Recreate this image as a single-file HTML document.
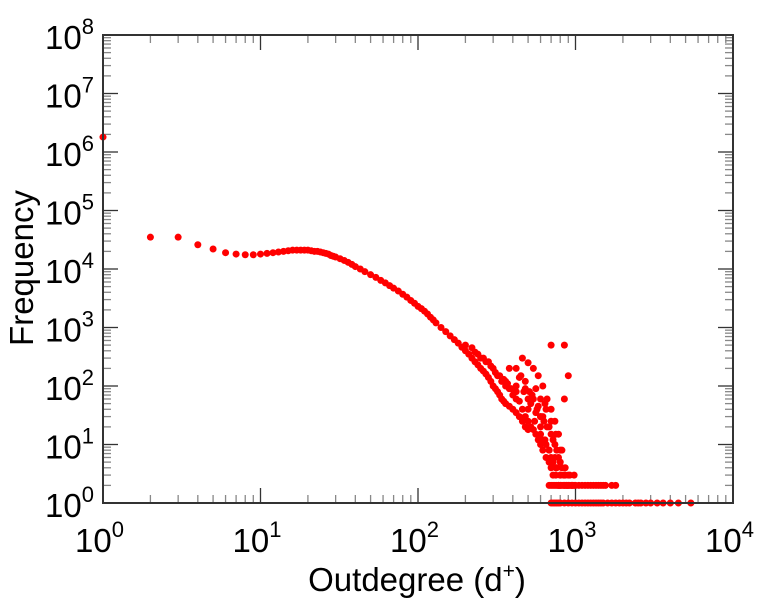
<!DOCTYPE html>
<html><head><meta charset="utf-8"><style>
body{margin:0;background:#fff;}
svg text{font-family:"Liberation Sans",sans-serif;fill:#000;}
</style></head><body>
<svg id="chart" width="764" height="600" xmlns="http://www.w3.org/2000/svg">
<g id="ticks"></g>
<g id="pts"></g>
<rect x="103" y="35" width="630" height="468" fill="none" stroke="#333" stroke-width="2"/>
<g id="labels"></g>
<text x="417" y="591" font-size="33" text-anchor="middle">Outdegree (d<tspan dy="-13" font-size="21">+</tspan><tspan dy="13">)</tspan></text>
<text transform="translate(33,268) rotate(-90)" font-size="33" text-anchor="middle">Frequency</text>
</svg>
<script>
const xTickLabels=["0","1","2","3","4"];
const yTickLabels=["0","1","2","3","4","5","6","7","8"];
const degrees=[1,2,3,4,5,6,7,8,9,10,11,12,13,14,15,16,17,18,19,20,21,22,23,24,25,26,27,28,29,30,32,34,36,38,40,43,46,50,54,58,62,66,70,75,80,85,90,95,100,105,110,115,120,125,130,140,150,160,170,180,190,200,210,220,230,240,250,260,270,280,290,300,310,320,330,340,350,360,380,400,420,440,460,480,500];
const freqs=[1800000,35000,35000,26000,22000,19000,18000,17500,17500,18000,18500,19000,19500,20000,20500,21000,21000,21000,21000,21000,20500,20000,20000,19500,19000,18500,18000,17000,16500,16000,15000,14000,13000,12000,11000,10000,9000,8000,7200,6400,5800,5200,4700,4200,3700,3300,2900,2600,2300,2100,1900,1700,1500,1350,1200,1000,850,720,620,540,460,400,350,300,260,230,200,180,160,140,120,100,90,80,70,60,55,50,45,40,35,30,25,20,18];
const tailDegrees=[200,220,240,260,280,300,230,250,270,290,310,330,350,370,390,320,340,360,380,400,420,440,460,480,500,520,540,560,580,600,620,650,680,700,720,750,780,800,850,900,950,420,450,480,510,540,570,600,630,660,700,740,780,820,860,900,460,500,540,580,620,660,700,740,780,820,700,850,900,850,420,470,520,560,600,640,680,720,760,800,840,880,500,550,600,650,700,750,800,850,600,650,700,750,800,620,680,740,800,860,920,980,
680,700,720,740,760,780,800,820,840,860,880,900,920,940,960,980,1000,1050,1100,1150,1200,1250,1300,1350,1400,1450,1500,1550,1700,1800,
700,720,740,760,780,800,850,900,950,1000,1050,1100,1150,1200,1250,1300,1350,1400,1450,1500,1600,1700,1800,1900,2000,2100,2200,2400,2500,2600,2800,3000,3300,3600,4000,4500,5400,
360,420,500,560,600,640,680,720,760,380,440,480,530,580,620];
const tailFreqs=[500,450,350,300,260,200,380,300,260,220,170,150,130,110,90,150,120,100,90,70,60,55,40,30,25,20,18,15,12,10,8,6,5,4,3,3,2,2,2,2,2,200,150,120,80,60,40,30,25,20,15,10,6,4,3,3,300,250,200,150,100,60,40,25,15,8,500,500,150,60,100,80,50,35,20,12,8,5,4,3,3,2,40,25,15,10,6,4,3,3,60,40,25,15,8,12,8,6,5,4,3,3,
2,2,2,2,2,2,2,2,2,2,2,2,2,2,2,2,2,2,2,2,2,2,2,2,2,2,2,2,2,2,
1,1,1,1,1,1,1,1,1,1,1,1,1,1,1,1,1,1,1,1,1,1,1,1,1,1,1,1,1,1,1,1,1,1,1,1,1,
120,80,60,90,30,50,20,12,8,200,140,90,70,45,30];
const X0=103,XW=630,Y0=503,YH=468;
const xs=d=>X0+Math.log10(d)/4*XW;
const ys=f=>Y0-Math.log10(f)/8*YH;
const NS="http://www.w3.org/2000/svg";
function mk(tag,attrs,parent){const e=document.createElementNS(NS,tag);for(const k in attrs)e.setAttribute(k,attrs[k]);parent.appendChild(e);return e;}
const tg=document.getElementById('ticks'),lg=document.getElementById('labels'),pg=document.getElementById('pts');
for(let dec=0;dec<4;dec++){for(let m=1;m<10;m++){const x=xs(Math.pow(10,dec)*m);const L=m===1?15:8;
const t1=mk('line',{x1:x,x2:x,y1:Y0,y2:Y0-L,stroke:m===1?'#333':'#888','stroke-width':1.3},tg);


const t2=mk('line',{x1:x,x2:x,y1:35,y2:35+L,stroke:m===1?'#333':'#888','stroke-width':1.3},tg);

}}
for(let dec=0;dec<8;dec++){for(let m=1;m<10;m++){const y=ys(Math.pow(10,dec)*m);const L=m===1?15:8;
const t1=mk('line',{x1:X0,x2:X0+L,y1:y,y2:y,stroke:m===1?'#333':'#888','stroke-width':1.3},tg);


const t2=mk('line',{x1:733,x2:733-L,y1:y,y2:y,stroke:m===1?'#333':'#888','stroke-width':1.3},tg);

}}
xTickLabels.forEach((s,i)=>{const x=X0+i/4*XW;const t=mk('text',{x:x-28,y:552,'font-size':33},lg);


t.innerHTML='10<tspan dy="-15" font-size="22">'+s+'</tspan>';});
yTickLabels.forEach((s,i)=>{const y=Y0-i/8*YH;const t=mk('text',{x:45,y:y+14,'font-size':33},lg);


t.innerHTML='10<tspan dy="-15" font-size="22">'+s+'</tspan>';});
function dot(d,f){const c=mk('circle',{cx:xs(d),cy:ys(f),r:3.5,fill:'#f00'},pg);

}
degrees.forEach((d,i)=>dot(d,freqs[i]));
tailDegrees.forEach((d,i)=>dot(d,tailFreqs[i]));
</script>
</body></html>
